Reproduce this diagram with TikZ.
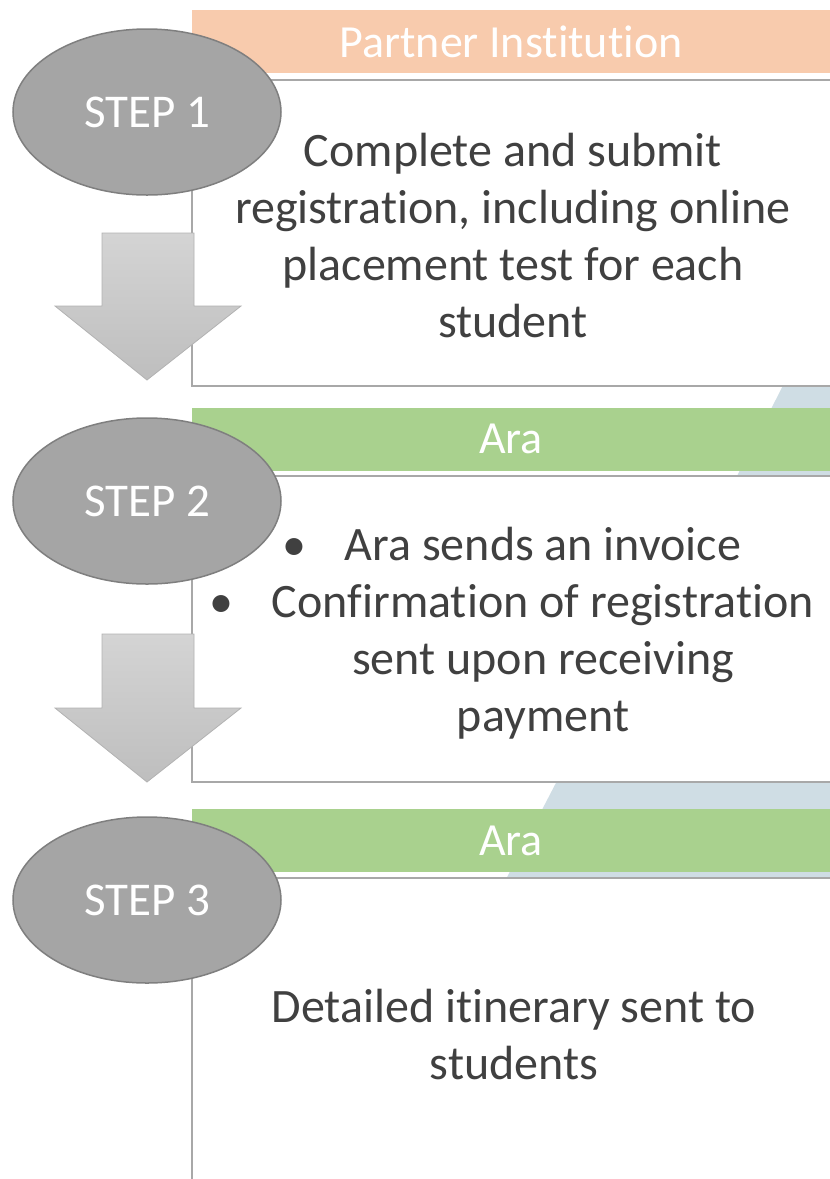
\documentclass[tikz,border=0pt]{standalone}
\usepackage{fontspec}
\setmainfont{Carlito}[Ligatures={NoCommon}]
\usetikzlibrary{shapes.geometric}
\definecolor{peach}{RGB}{248, 203, 173}
\definecolor{leaf}{RGB}{169, 209, 142}
\definecolor{steel}{RGB}{207, 221, 228}
\definecolor{stepgray}{RGB}{165, 165, 165}
\definecolor{stepedge}{RGB}{127, 127, 127}
\definecolor{frame}{RGB}{168, 168, 168}
\definecolor{ink}{RGB}{64, 64, 64}
\definecolor{arrowtop}{RGB}{212, 212, 212}
\definecolor{arrowbot}{RGB}{190, 190, 190}
\definecolor{arrowedge}{RGB}{178, 178, 178}

\begin{document}
\begin{tikzpicture}[x=1pt, y=-1pt,
    stepnode/.style={ellipse, fill=stepgray, draw=stepedge, line width=1.5pt, minimum width=268pt, minimum height=166pt, inner sep=0pt, text=white, font=\fontsize{47}{50}\selectfont},
    headbar/.style={rectangle, minimum width=638pt, minimum height=63pt, inner sep=0pt, text=white, font=\fontsize{46}{50}\selectfont},
    boxtext/.style={align=center, inner sep=0pt, text=ink, font=\fontsize{48}{57}\selectfont},
    downarrow/.style={top color=arrowtop, bottom color=arrowbot, draw=arrowedge, line width=0.8pt},
    boxline/.style={draw=frame, line width=2pt}]
            \useasboundingbox (0,0) rectangle (830,1179);
            \fill[steel]                   (801, 350) -- (830, 350) -- (830, 480) -- (735, 480) -- cycle;
            \fill[steel]                   (573, 750) -- (830, 750) -- (830, 885) -- (503, 885) -- cycle;
            \fill[white]                   (192,  80) rectangle (830, 386);
            \fill[white]                   (192, 476) rectangle (830, 782);
            \fill[white]                   (192, 878) rectangle (830,1179);
            \path[boxline]                 (830,  80) -- (192,  80) -- (192, 386) -- (830, 386);
            \path[boxline]                 (830, 476) -- (192, 476) -- (192, 782) -- (830, 782);
            \path[boxline]                 (830, 878) -- (192, 878) -- (192,1179);
            \node[headbar, fill=peach] (head1) at (511,  41.5) {Partner Institution};
            \node[headbar, fill=leaf]  (head2) at (511, 439.0) {Ara};
            \node[headbar, fill=leaf]  (head3) at (511, 840.5) {Ara};
            \node[boxtext] (text1) at (513, 236) {Complete and submit\\registration, including online\\placement test for each\\student};
            \node[boxtext] (text2) at (543, 633) {\llap{•\hspace{38pt}}Ara sends an invoice\\\llap{•\hspace{38pt}}Confirmation of registration\\sent upon receiving\\payment};
            \node[boxtext] (text3) at (514,1034) {Detailed itinerary sent to\\students};
            \shade[downarrow]              (102, 233) -- (194, 233) -- (194, 306) -- (241, 306) -- (147, 380) -- (55, 306) -- (102, 306) -- cycle;
            \shade[downarrow]              (102, 634) -- (194, 634) -- (194, 708) -- (241, 708) -- (147, 782) -- (55, 708) -- (102, 708) -- cycle;
            \node[stepnode] (step1) at (147, 112) {STEP 1};
            \node[stepnode] (step2) at (147, 501) {STEP 2};
            \node[stepnode] (step3) at (147, 900) {STEP 3};
\end{tikzpicture}
\end{document}
